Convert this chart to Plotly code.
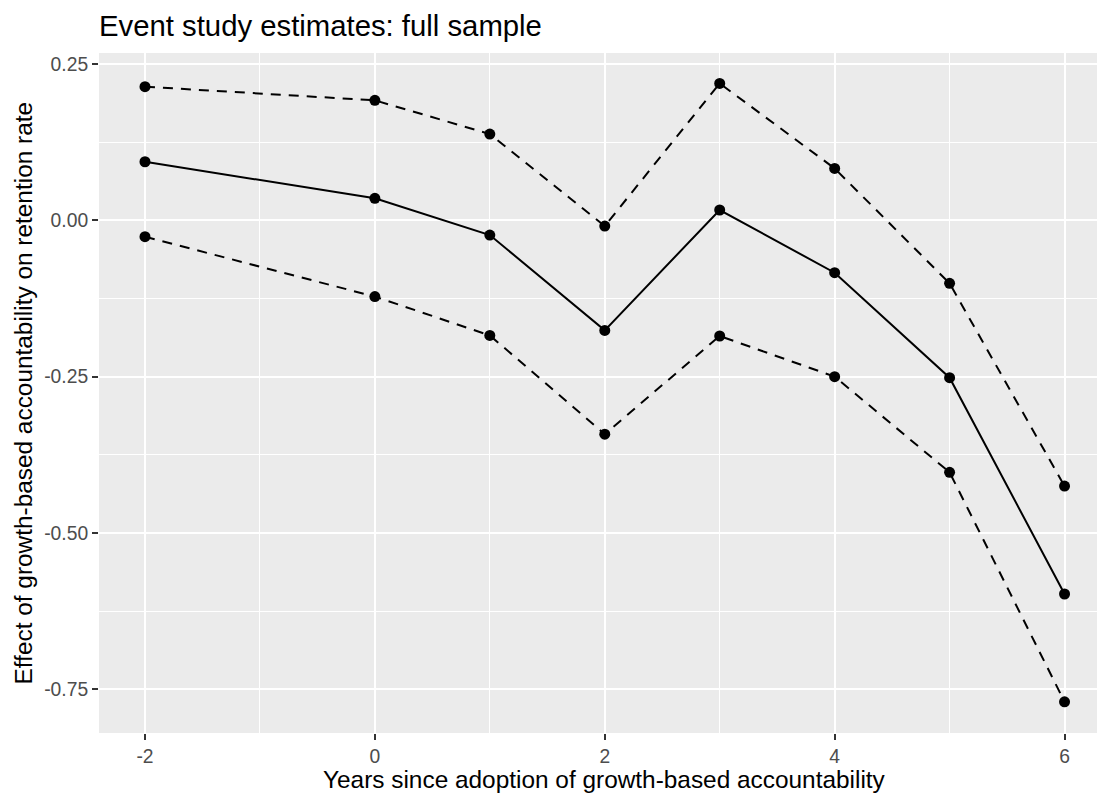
import plotly.graph_objects as go

years = [-2, 0, 1, 2, 3, 4, 5, 6]
estimate = [0.0937, 0.0352, -0.0235, -0.1760, 0.0165, -0.0838, -0.2517, -0.5976]
upper_ci = [0.2137, 0.1919, 0.1380, -0.0091, 0.2190, 0.0830, -0.1008, -0.4250]
lower_ci = [-0.0262, -0.1220, -0.1840, -0.3420, -0.1850, -0.2500, -0.4030, -0.7700]

x_tickvals = [-2, 0, 2, 4, 6]
x_ticktext = ["-2", "0", "2", "4", "6"]
y_tickvals = [0.25, 0, -0.25, -0.5, -0.75]
y_ticktext = ["0.25", "0.00", "-0.25", "-0.50", "-0.75"]

title_text = "Event study estimates: full sample"
x_title = "Years since adoption of growth-based accountability"
y_title = "Effect of growth-based accountability on retention rate"

FONT = "Liberation Sans, Arial, Helvetica, sans-serif"

fig = go.Figure()
for vals, dash in [(upper_ci, "10px,8px"), (lower_ci, "10px,8px"), (estimate, "solid")]:
    fig.add_trace(go.Scatter(
        x=years, y=vals, mode="lines+markers",
        line=dict(color="black", width=2, dash=dash),
        marker=dict(color="black", size=11),
        showlegend=False, hoverinfo="skip",
    ))

axis_common = dict(
    showgrid=True, gridcolor="white", gridwidth=2.2,
    zeroline=False, showline=False, automargin=False,
    ticks="outside", ticklen=6, tickwidth=2, tickcolor="#333333",
    tickfont=dict(family=FONT, size=19.3, color="#4D4D4D"),
)

# page body has an 8px default margin, so the figure is sized to fit the window
H = 786
fig.update_layout(
    width=1097, height=H,
    margin=dict(l=90.5, r=0, t=45, b=61),
    paper_bgcolor="white", plot_bgcolor="#EBEBEB",
    title=dict(text=title_text, x=0, xref="paper", xanchor="left",
               y=1 - 18 / H, yref="container", yanchor="middle",
               font=dict(family=FONT, size=29.3, color="black")),
    xaxis=dict(
        range=[-2.4, 6.352], tickmode="array", tickvals=x_tickvals, ticktext=x_ticktext,
        minor=dict(tickmode="array", tickvals=[-1, 1, 3, 5],
                   showgrid=True, gridcolor="white", gridwidth=1.1, ticks=""),
        **axis_common,
    ),
    yaxis=dict(
        range=[-0.8199, 0.2676], tickmode="array", tickvals=y_tickvals, ticktext=y_ticktext,
        minor=dict(tickmode="array", tickvals=[0.125, -0.125, -0.375, -0.625],
                   showgrid=True, gridcolor="white", gridwidth=1.1, ticks=""),
        **axis_common,
    ),
)

# axis titles placed as annotations (centred on the full ggplot panel)
fig.add_annotation(text=x_title, xref="x", x=2, yref="paper", y=0, yshift=-46,
                   xanchor="center", yanchor="middle", showarrow=False,
                   font=dict(family=FONT, size=24.4, color="black"))
fig.add_annotation(text=y_title, xref="paper", x=0, xshift=-76.5, yref="paper", y=0.5,
                   xanchor="center", yanchor="middle", textangle=-90, showarrow=False,
                   font=dict(family=FONT, size=24.4, color="black"))

fig.write_html("out.html")
